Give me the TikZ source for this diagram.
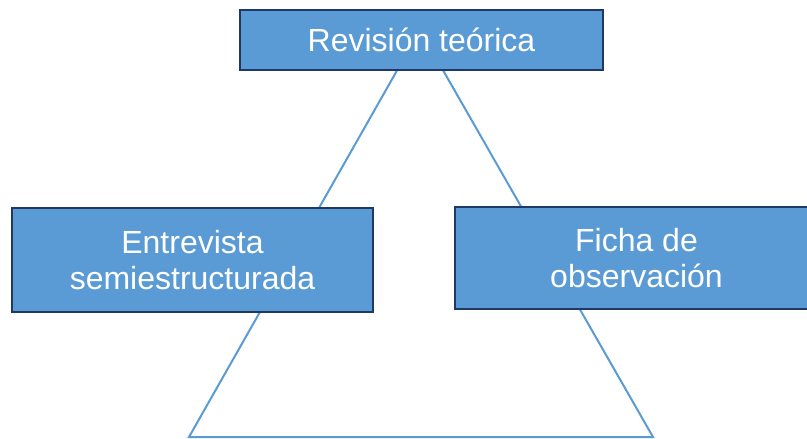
\documentclass[tikz,border=0pt]{standalone}
\usepackage{fontspec}
\setmainfont{Liberation Sans}
\definecolor{boxblue}{RGB}{91,155,213}
\definecolor{boxedge}{RGB}{32,56,100}

\begin{document}
\begin{tikzpicture}[x=1pt,y=-1pt,
    box/.style={draw=boxedge,line width=2.5pt,fill=boxblue,text=white,
      align=center,inner sep=0pt,font=\fontsize{32}{36}\selectfont}]
    \useasboundingbox (0,0) rectangle (807,439);
    \coordinate (apex) at (420,30);
    \coordinate (bl) at (189,437);
    \coordinate (br) at (653,437);
    \draw [boxblue,line width=2pt] (apex) -- (bl) -- (br) -- cycle;
    \path (421.5,40) node [box,minimum width=363,minimum height=60] (rev) {Revisión teórica};
    \path (192.5,260) node [box,minimum width=361,minimum height=104] (ent) {Entrevista\\semiestructurada};
    \path (636.5,258) node [box,minimum width=363,minimum height=102] (fic) {Ficha de\\observación};
\end{tikzpicture}
\end{document}
